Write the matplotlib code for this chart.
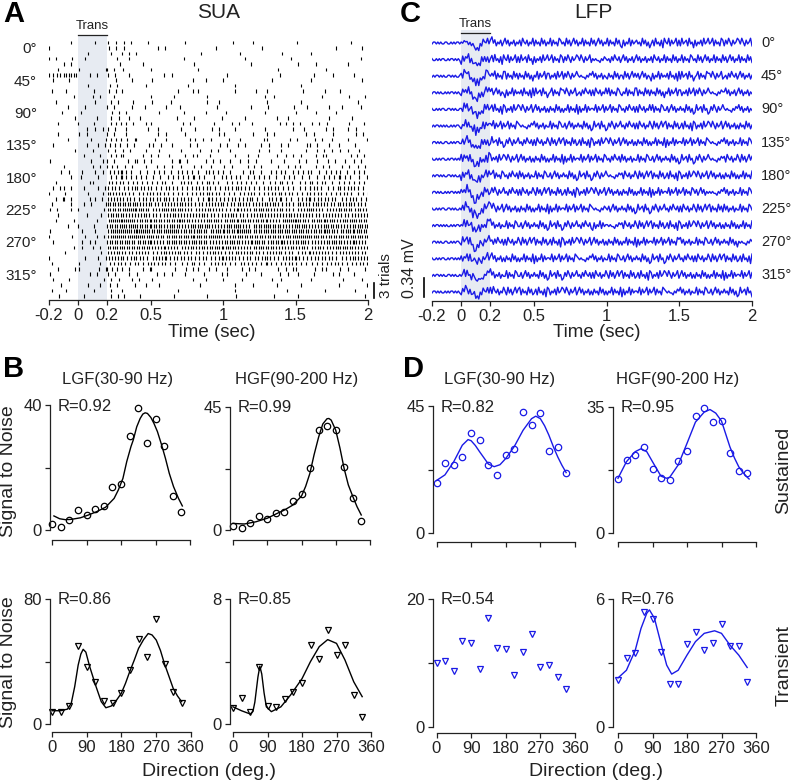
import numpy as np
import matplotlib
matplotlib.use("Agg")
import matplotlib.pyplot as plt

plt.rcParams['font.family'] = ['Liberation Sans', 'DejaVu Sans']
plt.rcParams['text.color'] = '#222222'
plt.rcParams['axes.edgecolor'] = '#222222'
plt.rcParams['xtick.color'] = '#222222'
plt.rcParams['ytick.color'] = '#222222'

W, H = 793, 782
BLUE = '#1a1ae6'

# ---------------- data ----------------
DIRS = np.arange(16) * 22.5
DIR_LABELS = ['0°', '45°', '90°', '135°', '180°', '225°', '270°', '315°']
TIME_TICKS = [-0.2, 0, 0.2, 0.5, 1, 1.5, 2]
TIME_LABELS = ['-0.2', '0', '0.2', '0.5', '1', '1.5', '2']

# SUA raster: spikes per 100 ms bin (-0.2 .. 2.0 s), 3 trials per direction
RASTER = [
    "01 01 22 10 01 00 10 10 01 00 10", "10 00 21 01 10 01 00 10 00 01 01", "00 10 12 10 00 10 01 00 10 10 00",
    "21 10 11 00 01 00 01 00 10 00 01", "02 00 10 10 00 10 01 00 01 10 10", "10 11 21 01 00 10 00 01 00 01 00",
    "46 11 21 01 10 00 10 01 00 11 01", "11 00 11 01 01 10 10 01 00 10 01", "00 10 20 10 01 00 10 00 01 00 00",
    "11 01 21 00 11 10 10 11 01 01 10", "01 02 10 01 10 10 00 11 00 10 11", "10 01 21 01 10 11 00 01 01 00 01",
    "01 10 21 10 11 01 01 01 11 01 11", "10 10 21 01 01 10 10 10 01 11 00", "01 01 21 10 10 11 01 01 10 01 10",
    "10 11 32 11 02 01 11 11 21 21 11", "00 12 21 11 01 12 10 10 11 02 11", "10 20 21 01 11 01 10 12 01 11 02",
    "01 11 32 11 11 21 11 11 11 21 11", "10 12 32 12 11 11 12 11 21 21 11", "01 01 22 11 01 12 10 11 11 21 21",
    "00 11 31 12 12 11 11 11 21 21 12", "10 11 22 21 22 12 12 11 12 12 12", "01 02 32 12 11 21 21 21 21 21 22",
    "11 12 43 23 23 23 22 23 23 23 23", "01 11 33 32 33 32 32 32 32 23 32", "10 11 43 33 24 33 33 23 33 32 33",
    "22 12 44 43 43 43 44 34 33 43 43", "11 11 54 44 33 44 34 34 43 43 43", "22 12 54 44 44 34 44 34 34 44 43",
    "11 21 66 54 55 45 45 55 45 54 54", "21 11 67 65 65 55 45 65 45 55 65", "10 11 65 54 55 54 54 55 55 45 45",
    "11 01 77 66 66 56 66 65 76 66 66", "01 11 67 66 65 65 65 66 56 56 56", "10 11 77 76 76 66 67 66 66 66 66",
    "11 12 77 76 66 67 56 66 67 66 66", "10 21 66 65 65 65 65 66 56 56 55", "01 12 66 65 55 56 65 65 55 55 65",
    "01 01 54 54 54 45 45 45 44 54 54", "10 12 54 45 44 44 54 44 54 44 45", "10 11 43 34 33 34 34 33 43 34 34",
    "11 12 32 21 12 12 12 11 21 21 21", "10 11 21 12 11 11 11 11 11 11 11", "11 01 21 11 01 10 11 01 10 10 11",
    "10 11 21 11 00 10 10 11 01 00 11", "11 01 11 00 10 00 10 00 10 01 01", "10 10 21 10 10 10 10 01 01 00 01",
]
# where in its bin each spike group starts (tenths of the bin width)
SPIKE_PHASE = "3807152946614092835729570381648051736"

# LFP traces: 10 ms samples as digits (4.5 = baseline), built from 10-sample pieces
LFP_PIECES = {
    'u': "4554545445", 'v': "5445454554", 'w': "4545545454",
    'a': "5454435465", 'b': "4536475463", 'c': "5746354635", 'd': "7463546354",
    'e': "6375463547", 'f': "3645374635", 'g': "4736453764", 'h': "5374635746",
    'i': "3547364537", 'j': "4635746354", 'k': "7364537463", 'l': "2635473645",
    'm': "6453746352", 'n': "4637453627", 'o': "5473645736", 'p': "3745637452",
    'q': "6354637457", 'r': "4573645376", 's': "3647536457", 't': "6475364573",
}
LFP_ORDER = ["uvabcdefghijklmnopqrst", "vwlmnopqrstabcdefghijk", "wuegikmoqsadfhjlnprtbc",
             "uwfhjlnprtbegikmoqsacd", "vuhknqtcfilorbegjmpsad", "wviloradgjmpsbehknqtcf",
             "uvjmpsbehknqtcfiloradg", "vwknqtcfilorbdgjmpsaeh", "wulorbdgjmpsaehknqtcfi",
             "uwmpsbehknqtcfilorjadg", "vunqtcfilorajmpsbehkdg", "wvordgjmpsblaehknqtcfi",
             "uvpsbehknqtcfilordgjma", "vwqtcfiloradgjmpsbehkn", "wuradgjmpsbehknqtcfilo",
             "uwsbehknqtcfiloradgjmp"]
LFP_GAIN = [0.8, 0.75, 1.1, 0.85, 0.9, 0.6, 0.7, 0.75, 0.8, 1.0, 0.95, 0.7, 0.75, 0.65, 0.7, 0.7]
EVOKED_T = [0, 0.02, 0.04, 0.06, 0.08, 0.10, 0.12, 0.14, 0.16, 0.18, 0.20, 0.22, 0.24]
EVOKED_MV = [0, 0.03, 0.06, 0.0, -0.07, -0.14, -0.11, -0.05, 0.0, 0.04, 0.05, 0.02, 0.0]

# Tuning (signal to noise) per direction
SUA_LGF_SUS = [1.9, 1.1, 3.2, 6.4, 4.7, 6.7, 7.7, 13.7, 14.8, 30.1, 39.1, 27.9, 35.4, 26.9, 10.8, 5.9]
SUA_HGF_SUS = [1.5, 0.6, 2.7, 5.2, 3.9, 6.3, 6.6, 10.6, 13.0, 22.7, 36.5, 38.0, 36.7, 23.1, 11.8, 3.4]
SUA_LGF_TR = [7.9, 7.9, 11.7, 49.9, 36.7, 26.7, 14.7, 13.4, 19.6, 34.5, 54.2, 43.1, 67.4, 38.6, 20.3, 13.4]
SUA_HGF_TR = [1.04, 1.64, 0.75, 3.67, 1.17, 1.11, 1.62, 2.03, 2.64, 5.03, 4.16, 6.01, 4.41, 5.07, 1.85, 0.47]
LFP_LGF_SUS = [17.7, 24.9, 24.0, 26.9, 35.3, 32.9, 24.0, 20.4, 27.7, 29.8, 42.9, 38.2, 42.4, 29.1, 30.6, 21.3]
LFP_HGF_SUS = [14.9, 20.3, 21.8, 24.0, 17.8, 15.2, 14.7, 20.0, 22.7, 32.4, 34.6, 30.8, 31.1, 22.2, 17.3, 16.8]
LFP_LGF_TR = [9.97, 10.3, 8.8, 13.5, 13.1, 9.1, 17.0, 12.4, 12.2, 8.1, 11.7, 14.5, 9.3, 9.7, 7.8, 5.95]
LFP_HGF_TR = [2.19, 3.24, 3.48, 5.38, 5.05, 3.51, 2.0, 2.0, 3.89, 4.44, 3.6, 3.92, 4.84, 3.79, 3.82, 2.12]

# fitted curves (direction, value)
FIT_SUA_LGF_SUS = ([5, 20, 35, 50, 74, 95, 117, 140, 162, 173, 185, 195, 206, 212, 221, 230, 237, 243, 249,
                    258, 266, 275, 286, 296, 306, 317, 330, 340],
                   [4.5, 3.6, 3.3, 3.4, 3.9, 4.8, 5.9, 7.3, 10.1, 12.8, 16.5, 21.9, 26.7, 28.8, 33.0, 35.7, 37.1,
                    37.5, 37.3, 36.0, 34.1, 31.5, 27.2, 22.9, 18.1, 13.9, 10.1, 7.7])
FIT_SUA_HGF_SUS = ([0, 30, 60, 90, 112, 135, 157, 180, 191, 202, 213, 225, 236, 247, 252, 258, 270, 281, 292,
                    303, 315, 326, 337],
                   [2.4, 2.2, 3.0, 4.3, 5.8, 7.3, 9.1, 12.4, 16, 20.7, 27.5, 34, 38.8, 40.7, 40.8, 40.2, 36.5, 30,
                    22.5, 16.5, 12.2, 8.5, 5.5])
FIT_SUA_LGF_TR = ([0, 22, 40, 50, 59, 68, 75, 81, 88, 98, 113, 128, 140, 154, 167, 180, 191, 202, 214, 225,
                   238, 250, 260, 271, 282, 292, 304, 315, 326, 337],
                  [8.5, 8.5, 9.5, 13.2, 23.9, 37.7, 44.8, 47.8, 46, 36.7, 25, 14.3, 10.4, 11.5, 15, 19.6, 26,
                   33.5, 41, 48.4, 54, 57.9, 57, 53.7, 47, 38.8, 30.5, 22.8, 18, 14.3])
FIT_SUA_HGF_TR = ([0, 22, 45, 52, 57, 61, 65, 70, 75, 81, 87, 100, 125, 150, 180, 202, 225, 247, 270, 292,
                   315, 337],
                  [1.1, 0.85, 0.64, 0.8, 1.4, 2.2, 3.0, 3.7, 3.2, 2.0, 1.1, 0.79, 1.1, 1.85, 2.9, 3.99, 4.95,
                   5.4, 5.16, 4.1, 2.7, 1.75])
FIT_LFP_LGF_SUS = ([0, 22, 45, 67, 82, 90, 101, 112, 135, 150, 165, 180, 202, 225, 247, 258, 270, 281, 292,
                    304, 315, 326, 337],
                   [18.6, 20.6, 25.3, 31.1, 33.1, 32.7, 31, 28.8, 24.4, 23.5, 24.2, 26.4, 30.6, 36.4, 40.5, 41.4,
                    40.5, 38, 34.7, 30.5, 27, 24, 21.4])
FIT_LFP_HGF_SUS = ([0, 22, 45, 60, 75, 90, 112, 127, 135, 157, 180, 202, 225, 240, 255, 270, 281, 292, 304,
                    315, 326, 337, 342],
                   [15.2, 19.8, 22.6, 23.4, 22.6, 19.8, 15.8, 15.2, 15.5, 18.9, 24.9, 30.8, 33.6, 34.3, 33.3,
                    31.1, 27.5, 23.9, 20.8, 18.4, 16.8, 15.5, 15.0])
FIT_LFP_HGF_TR = ([0, 22, 45, 60, 75, 82, 95, 112, 127, 140, 157, 180, 202, 225, 252, 270, 292, 315, 337],
                  [2.3, 2.66, 3.6, 4.62, 5.33, 5.49, 5.1, 3.92, 2.9, 2.48, 2.66, 3.37, 4.0, 4.39, 4.51, 4.39,
                   3.84, 3.37, 2.79])

fig = plt.figure(figsize=(W / 100, H / 100), dpi=100)


def px_axes(l, t, r, b):
    return fig.add_axes([l / W, 1 - b / H, (r - l) / W, (b - t) / H])


def ftext(x, y, s, **kw):
    kw.setdefault('ha', 'center')
    kw.setdefault('va', 'center')
    fig.text(x / W, 1 - y / H, s, **kw)


def time_axis(ax):
    ax.set_xlim(-0.2, 2.0)
    for s in ['left', 'top', 'right']:
        ax.spines[s].set_visible(False)
    ax.spines['bottom'].set_linewidth(0.9)
    ax.set_yticks([])
    ax.set_xticks(TIME_TICKS)
    ax.set_xticklabels(TIME_LABELS)
    ax.tick_params(axis='x', direction='out', length=3.5, width=0.9, labelsize=12, pad=2)
    ax.axvspan(0, 0.2, color='#e7ebf2', zorder=0, lw=0)


# ---------------- A: SUA raster ----------------
row0, rowh = 42.5, 5.39
ax = px_axes(49, 36, 368, 300)
time_axis(ax)
ax.set_ylim((300 - row0) / rowh, (36 - row0) / rowh)
for r, s in enumerate(RASTER):
    counts = [int(c) for c in s.replace(' ', '')]
    ts = []
    for b, n in enumerate(counts):
        ph = int(SPIKE_PHASE[(r * 13 + b * 5 + r * b) % len(SPIKE_PHASE)]) / 10
        for k in range(n):
            ts.append(-0.2 + 0.1 * b + 0.1 * (k + ph) / n)
    ax.vlines(ts, r - 0.33, r + 0.33, color='k', lw=0.8)
ax.plot([0, 0.2], [(35 - row0) / rowh] * 2, color='#222222', lw=0.9, clip_on=False)
ax.text(0.1, (32 - row0) / rowh, 'Trans', ha='center', va='bottom', fontsize=9.5)
ax.plot([2.041, 2.041], [44.6, 47.4], color='k', lw=1.2, clip_on=False)
ftext(386, 276, '3 trials', rotation=90, fontsize=11)
for i, lab in enumerate(DIR_LABELS):
    ftext(37, row0 + rowh * (6 * i + 1) + 1.5, lab, ha='right', fontsize=11)
ftext(212, 333, 'Time (sec)', fontsize=13.5)
ftext(219, 13, 'SUA', fontsize=15)
ftext(3, 14, 'A', ha='left', fontsize=21, fontweight='bold', color='k')

# ---------------- C: LFP traces ----------------
mv_px = 0.34 / 19.0
gap = 16.6 * mv_px
ax = px_axes(432, 30, 752, 301)
time_axis(ax)
ax.set_ylim(-(301 - 43) * mv_px, (43 - 30) * mv_px)
for i, order in enumerate(LFP_ORDER):
    digits = np.array([int(c) for c in ''.join(LFP_PIECES[p] for p in order)], dtype=float)
    t = np.linspace(-0.2, 2.0, len(digits))
    v = (digits - 4.5) * 0.034 + LFP_GAIN[i] * np.interp(t, EVOKED_T, EVOKED_MV, left=0, right=0)
    ax.plot(t, v - i * gap, color=BLUE, lw=1.0)
ax.plot([0, 0.2], [(43 - 33) * mv_px] * 2, color='#222222', lw=0.9, clip_on=False)
ax.text(0.1, (43 - 30) * mv_px, 'Trans', ha='center', va='bottom', fontsize=9.5)
ax.plot([-0.255, -0.255], [-(297 - 43) * mv_px, -(297 - 43) * mv_px + 0.34], color='k', lw=1.2, clip_on=False)
ftext(409, 268, '0.34 mV', rotation=90, fontsize=11.5)
for i, lab in enumerate(DIR_LABELS):
    ftext(761, 43 + gap / mv_px * 2 * i, lab, ha='left', fontsize=10.5)
ftext(597, 333, 'Time (sec)', fontsize=13.5)
ftext(593, 13, 'LFP', fontsize=15)
ftext(400, 14, 'C', ha='left', fontsize=21, fontweight='bold', color='k')


# ---------------- B and D: tuning curves ----------------
def tuning(geo, ymax, pts, fit, marker, color, rtext, xlabels):
    spx, x0, x360, y0, ytop, yspine = geo
    ppd = (x360 - x0) / 360.0
    ppu = (y0 - ytop) / ymax
    right, top = x360 + 6, ytop - 6
    ax = px_axes(spx, top, right, yspine)
    ax.set_xlim(-(x0 - spx) / ppd, 360 + (right - x360) / ppd)
    ax.set_ylim(-(yspine - y0) / ppu, ymax + (ytop - top) / ppu)
    if fit is not None:
        ax.plot(fit[0], fit[1], color=color, lw=1.0)
    ax.plot(DIRS, pts, ls='none', marker=marker, ms=4.6, mfc='none', mec=color, mew=0.9, clip_on=False)
    for s in ['top', 'right']:
        ax.spines[s].set_visible(False)
    for s in ['left', 'bottom']:
        ax.spines[s].set_linewidth(0.9)
    ax.spines['left'].set_bounds(0, ymax)
    ax.spines['bottom'].set_bounds(0, 360)
    ax.set_yticks([0, ymax / 2, ymax])
    ax.set_yticklabels(['0', '', str(ymax)])
    ax.set_xticks([0, 90, 180, 270, 360])
    ax.set_xticklabels(['0', '90', '180', '270', '360'] if xlabels else [''] * 5)
    ax.tick_params(direction='out', length=3.5, width=0.9, labelsize=12, pad=2.5)
    fig.text((spx + 8) / W, 1 - (ytop + 1) / H, rtext, ha='left', va='center', fontsize=12)
    return ax


tuning((50, 52, 190, 530, 405, 540), 40, SUA_LGF_SUS, FIT_SUA_LGF_SUS, 'o', 'k', 'R=0.92', False)
tuning((230, 233, 370, 530, 407, 540), 45, SUA_HGF_SUS, FIT_SUA_HGF_SUS, 'o', 'k', 'R=0.99', False)
tuning((50, 52, 190.5, 724, 599, 732), 80, SUA_LGF_TR, FIT_SUA_LGF_TR, 'v', 'k', 'R=0.86', True)
tuning((230, 233, 371, 724, 599, 732), 8, SUA_HGF_TR, FIT_SUA_HGF_TR, 'v', 'k', 'R=0.85', True)
tuning((433, 436.5, 575, 533, 406, 542), 45, LFP_LGF_SUS, FIT_LFP_LGF_SUS, 'o', BLUE, 'R=0.82', False)
tuning((613, 618, 756, 533, 407, 542), 35, LFP_HGF_SUS, FIT_LFP_HGF_SUS, 'o', BLUE, 'R=0.95', False)
tuning((433, 436.5, 575, 727, 599, 733), 20, LFP_LGF_TR, None, 'v', BLUE, 'R=0.54', True)
tuning((613, 618, 756, 727, 599, 733), 6, LFP_HGF_TR, FIT_LFP_HGF_TR, 'v', BLUE, 'R=0.76', True)

ftext(3, 369, 'B', ha='left', fontsize=21, fontweight='bold', color='k')
ftext(403, 369, 'D', ha='left', fontsize=21, fontweight='bold', color='k')
ftext(118, 380, 'LGF(30-90 Hz)', fontsize=12)
ftext(297, 380, 'HGF(90-200 Hz)', fontsize=12)
ftext(500, 380, 'LGF(30-90 Hz)', fontsize=12)
ftext(678, 380, 'HGF(90-200 Hz)', fontsize=12)
ftext(9, 471, 'Signal to Noise', rotation=90, fontsize=14)
ftext(9, 662, 'Signal to Noise', rotation=90, fontsize=14)
ftext(784, 470, 'Sustained', rotation=90, fontsize=14)
ftext(784, 665, 'Transient', rotation=90, fontsize=14)
ftext(209, 772, 'Direction (deg.)', fontsize=14)
ftext(596, 772, 'Direction (deg.)', fontsize=14)

fig.savefig('out.png', dpi=100)
